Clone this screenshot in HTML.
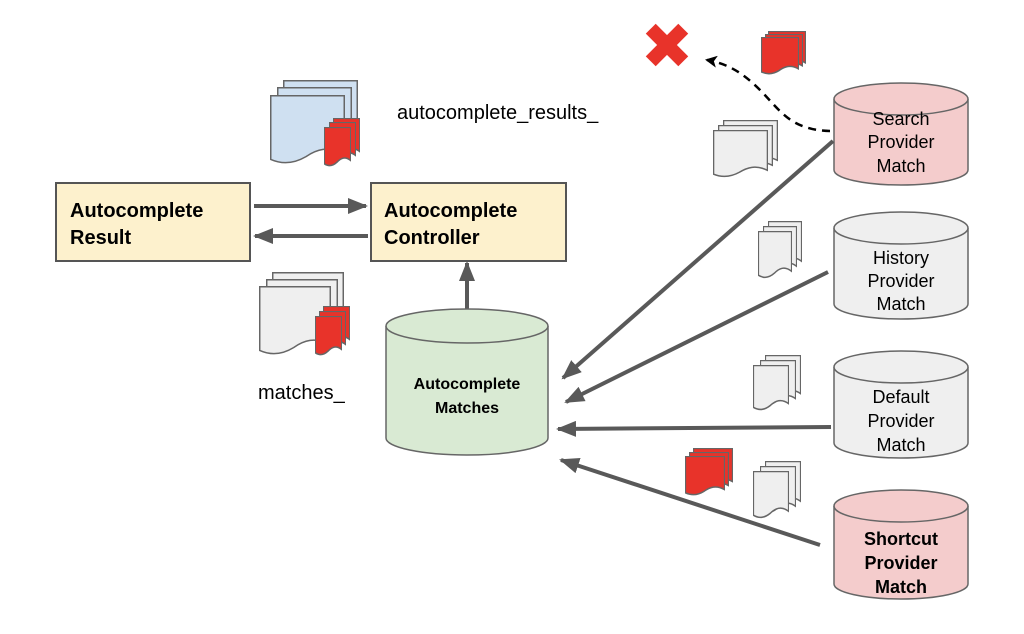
<!DOCTYPE html>
<html><head><style>
html,body{margin:0;padding:0;background:#fff;}
svg{display:block;font-family:"Liberation Sans",Arial,sans-serif;}
</style></head><body>
<svg width="1024" height="634" viewBox="0 0 1024 634" xmlns="http://www.w3.org/2000/svg">
<defs>
<symbol id="pg" viewBox="0 0 100 100" preserveAspectRatio="none">
<path d="M1,1 H99 V84 C78,72 62,78 48,88 C32,98 16,99 1,92 Z" vector-effect="non-scaling-stroke"/>
</symbol>
<marker id="ah2" markerWidth="20" markerHeight="16" refX="18" refY="8" orient="auto" markerUnits="userSpaceOnUse" viewBox="0 0 20 16">
<path d="M0,0 L20,8 L0,16 Z" fill="#595959"/>
</marker>
<marker id="ahd" markerWidth="12" markerHeight="12" refX="10" refY="6" orient="auto" markerUnits="userSpaceOnUse" viewBox="0 0 12 12">
<path d="M0,0 L12,6 L0,12 L3,6 Z" fill="#000"/>
</marker>
</defs>

<rect x="56" y="183" width="194" height="78" fill="#fdf1cd" stroke="#555" stroke-width="2"/>
<text x="70" y="217" font-size="20" font-weight="bold">Autocomplete</text>
<text x="70" y="244" font-size="20" font-weight="bold">Result</text>
<rect x="371" y="183" width="195" height="78" fill="#fdf1cd" stroke="#555" stroke-width="2"/>
<text x="384" y="217" font-size="20" font-weight="bold">Autocomplete</text>
<text x="384" y="244" font-size="20" font-weight="bold">Controller</text>

<line x1="254" y1="206" x2="366" y2="206" stroke="#595959" stroke-width="4" marker-end="url(#ah2)"/>
<line x1="368" y1="236" x2="255" y2="236" stroke="#595959" stroke-width="4" marker-end="url(#ah2)"/>
<line x1="467" y1="310" x2="467" y2="263" stroke="#595959" stroke-width="4" marker-end="url(#ah2)"/>

<path d="M386,326 V438 A81,17 0 0 0 548,438 V326" fill="#d9ead3" stroke="#666" stroke-width="1.5"/>
<ellipse cx="467" cy="326" rx="81" ry="17" fill="#d9ead3" stroke="#666" stroke-width="1.5"/>
<text x="467" y="389" font-size="16" font-weight="bold" text-anchor="middle">Autocomplete</text>
<text x="467" y="413" font-size="16" font-weight="bold" text-anchor="middle">Matches</text>

<g stroke="#666" stroke-width="1.5">
<path d="M834,99 V170 A67,15 0 0 0 968,170 V99" fill="#f4cccc"/>
<ellipse cx="901" cy="99" rx="67" ry="16" fill="#f4cccc"/>
<path d="M834,228 V304 A67,15 0 0 0 968,304 V228" fill="#efefef"/>
<ellipse cx="901" cy="228" rx="67" ry="16" fill="#efefef"/>
<path d="M834,367 V443 A67,15 0 0 0 968,443 V367" fill="#efefef"/>
<ellipse cx="901" cy="367" rx="67" ry="16" fill="#efefef"/>
<path d="M834,506 V584 A67,15 0 0 0 968,584 V506" fill="#f4cccc"/>
<ellipse cx="901" cy="506" rx="67" ry="16" fill="#f4cccc"/>
</g>
<g font-size="18" text-anchor="middle">
<text x="901" y="125">Search</text><text x="901" y="148">Provider</text><text x="901" y="172">Match</text>
<text x="901" y="264">History</text><text x="901" y="287">Provider</text><text x="901" y="310">Match</text>
<text x="901" y="403">Default</text><text x="901" y="427">Provider</text><text x="901" y="451">Match</text>
<g font-weight="bold"><text x="901" y="545">Shortcut</text><text x="901" y="569">Provider</text><text x="901" y="593">Match</text></g>
</g>

<g stroke="#595959" stroke-width="4">
<line x1="833" y1="141" x2="563" y2="378" marker-end="url(#ah2)"/>
<line x1="828" y1="272" x2="566" y2="402" marker-end="url(#ah2)"/>
<line x1="831" y1="427" x2="558" y2="429" marker-end="url(#ah2)"/>
<line x1="820" y1="545" x2="561" y2="460" marker-end="url(#ah2)"/>
</g>
<path d="M830,131 C790,130 780,110 760,90 C745,75 730,64 707,60" fill="none" stroke="#000" stroke-width="2.5" stroke-dasharray="8,6" marker-end="url(#ahd)"/>

<g transform="translate(667,45) rotate(45)"><rect x="-23" y="-7" width="46" height="14" fill="#e8332a"/><rect x="-7" y="-23" width="14" height="46" fill="#e8332a"/></g>

<g stroke="#666" stroke-width="1.5">
<g fill="#cfe0f1"><use href="#pg" x="283" y="80" width="75" height="70"/><use href="#pg" x="277" y="87" width="75" height="70"/><use href="#pg" x="270" y="95" width="75" height="70"/></g>
<g fill="#e8332a"><use href="#pg" x="333" y="118" width="27" height="40"/><use href="#pg" x="329" y="122" width="27" height="40"/><use href="#pg" x="324" y="127" width="27" height="40"/></g>
<g fill="#efefef"><use href="#pg" x="272" y="272" width="72" height="70"/><use href="#pg" x="266" y="279" width="72" height="70"/><use href="#pg" x="259" y="286" width="72" height="70"/></g>
<g fill="#e8332a"><use href="#pg" x="323" y="306" width="27" height="40"/><use href="#pg" x="319" y="311" width="27" height="40"/><use href="#pg" x="315" y="316" width="27" height="40"/></g>
<g fill="#e8332a"><use href="#pg" x="768" y="31" width="38" height="38"/><use href="#pg" x="765" y="34" width="38" height="38"/><use href="#pg" x="761" y="37" width="38" height="38"/></g>
<g fill="#efefef"><use href="#pg" x="723" y="120" width="55" height="48"/><use href="#pg" x="718" y="125" width="55" height="48"/><use href="#pg" x="713" y="130" width="55" height="48"/></g>
<g fill="#efefef"><use href="#pg" x="768" y="221" width="34" height="48"/><use href="#pg" x="763" y="226" width="34" height="48"/><use href="#pg" x="758" y="231" width="34" height="48"/></g>
<g fill="#efefef"><use href="#pg" x="765" y="355" width="36" height="46"/><use href="#pg" x="760" y="360" width="36" height="46"/><use href="#pg" x="753" y="365" width="36" height="46"/></g>
<g fill="#e8332a"><use href="#pg" x="693" y="448" width="40" height="40"/><use href="#pg" x="689" y="452" width="40" height="40"/><use href="#pg" x="685" y="456" width="40" height="40"/></g>
<g fill="#efefef"><use href="#pg" x="765" y="461" width="36" height="48"/><use href="#pg" x="760" y="466" width="36" height="48"/><use href="#pg" x="753" y="471" width="36" height="48"/></g>
</g>

<text x="397" y="119" font-size="20">autocomplete_results_</text>
<text x="258" y="399" font-size="20">matches_</text>
</svg>
</body></html>
